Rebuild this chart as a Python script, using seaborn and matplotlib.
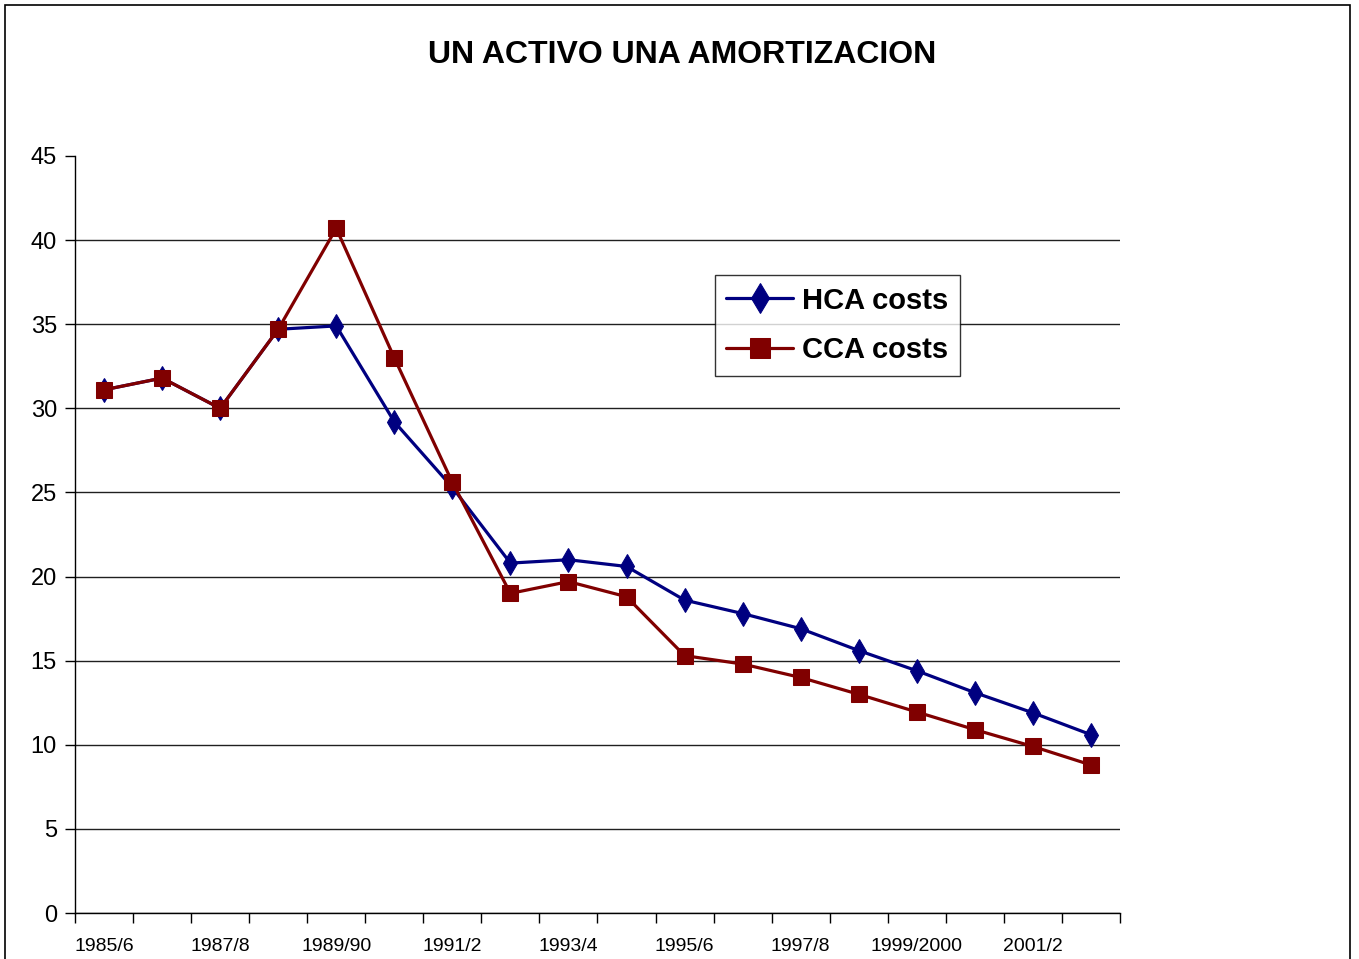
import matplotlib
matplotlib.use("Agg")
import matplotlib.pyplot as plt
from matplotlib import font_manager
from matplotlib.patches import Rectangle
import seaborn as sns
import pandas as pd
import numpy as np

periods = ["1985/6", "1986/7", "1987/8", "1988/9", "1989/90", "1990/1", "1991/2", "1992/3",
           "1993/4", "1994/5", "1995/6", "1996/7", "1997/8", "1998/9", "1999/2000", "2000/1",
           "2001/2", "2002/3"]
hca_costs = [31.1, 31.8, 30.0, 34.7, 34.9, 29.2, 25.3, 20.8, 21.0, 20.6, 18.6, 17.8, 16.9,
             15.6, 14.4, 13.1, 11.9, 10.6]
cca_costs = [31.1, 31.8, 30.0, 34.7, 40.7, 33.0, 25.6, 19.0, 19.7, 18.8, 15.3, 14.8, 14.0,
             13.0, 11.95, 10.9, 9.9, 8.8]
title = "UN ACTIVO UNA AMORTIZACION"
series_names = ["HCA costs", "CCA costs"]

sns.set_style("white")
names = {f.name for f in font_manager.fontManager.ttflist}
narrow = "Liberation Sans Narrow" if "Liberation Sans Narrow" in names else "Liberation Sans"
plt.rcParams["font.family"] = [narrow, "DejaVu Sans"]
plt.rcParams["text.color"] = "black"
plt.rcParams["xtick.color"] = "black"
plt.rcParams["ytick.color"] = "black"
plt.rcParams["axes.labelcolor"] = "black"

fig = plt.figure(figsize=(13.59, 9.59), dpi=100)
ax = fig.add_axes([75/1359, 46/959, 1045/1359, 757/959])

x = np.arange(len(periods))
df = pd.DataFrame({"x": x, "hca": hca_costs, "cca": cca_costs})

sns.lineplot(data=df, x="x", y="hca", ax=ax, color="#000080", marker="d", markersize=12.5,
             markeredgecolor="#000080", linewidth=2.3, label=series_names[0])
sns.lineplot(data=df, x="x", y="cca", ax=ax, color="#800000", marker="s", markersize=11.5,
             markeredgecolor="#800000", linewidth=2.3, label=series_names[1])

ax.set_xlim(-0.5, len(periods) - 0.5)
ax.set_ylim(0, 45)
ax.set_yticks(np.arange(0, 46, 5))
ax.set_yticklabels([str(v) for v in range(0, 46, 5)], fontsize=17)
ax.yaxis.grid(True, color="#202020", linewidth=1)
gl = ax.yaxis.get_gridlines()
gl[-1].set_visible(False)
ax.xaxis.grid(False)
ax.set_axisbelow(True)

ax.set_xticks(np.arange(-0.5, len(periods), 1.0))
ax.set_xticklabels([])
ax.set_xticks(x[::2], minor=True)
ax.set_xticklabels(periods[::2][:9], minor=True, fontsize=14)
ax.tick_params(axis="x", which="major", bottom=True, length=7, direction="out", width=1, color="black")
ax.tick_params(axis="x", which="minor", bottom=True, length=0, pad=18)
ax.tick_params(axis="y", left=True, length=7, direction="out", width=1, color="black", pad=6)
ax.set_xlabel("")
ax.set_ylabel("")

for s in ["top", "right"]:
    ax.spines[s].set_visible(False)
for s in ["left", "bottom"]:
    ax.spines[s].set_color("black")
    ax.spines[s].set_linewidth(1)

leg = ax.legend(loc="upper left", bbox_to_anchor=(0.612, 0.843), frameon=True, fancybox=False,
                prop={"size": 21, "weight": "bold"}, handlelength=2.3, handletextpad=0.3,
                borderpad=0.4, labelspacing=0.75, borderaxespad=0, markerscale=1.2)
leg.get_frame().set_edgecolor("black")
leg.get_frame().set_linewidth(1)

fig.text(682/1359, 1 - 55/959, title, ha="center", va="center", fontsize=23, fontweight="bold")
fig.patches.append(Rectangle((5/1359, -0.01), 1345/1359, 1.01 - 5/959, transform=fig.transFigure,
                             fill=False, edgecolor="black", linewidth=1.2))

fig.savefig("out.png", dpi=100)
